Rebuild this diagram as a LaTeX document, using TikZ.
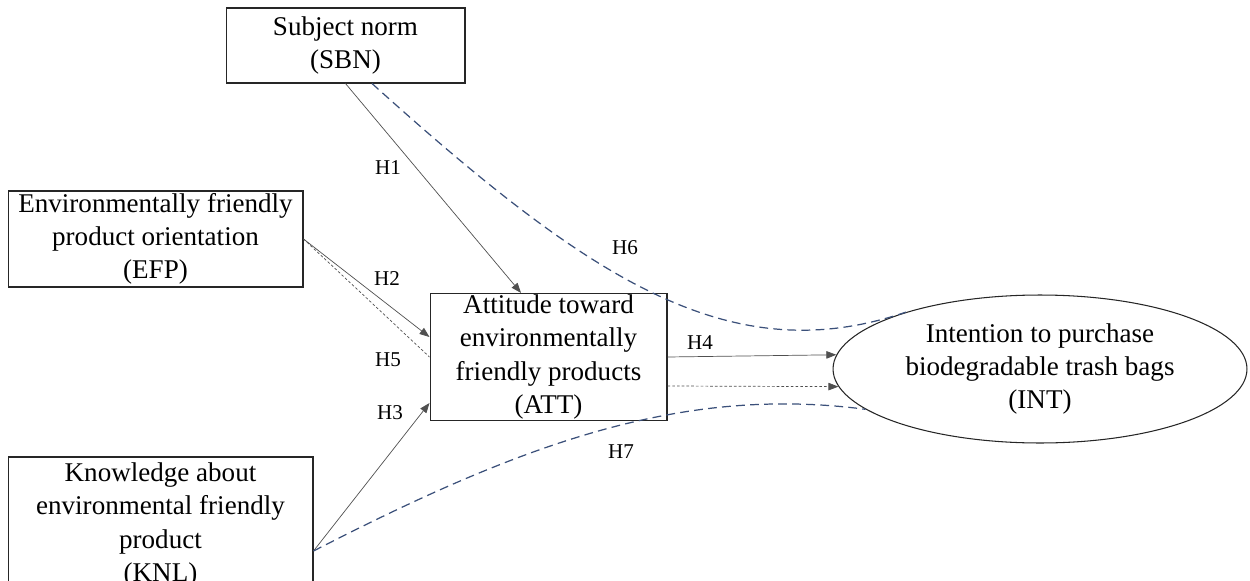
\documentclass[tikz,border=0pt]{standalone}
\usepackage{fontspec}
\setmainfont{Liberation Serif}
\usetikzlibrary{positioning,arrows.meta,shapes.geometric}
\definecolor{pathnavy}{RGB}{59,80,122}
\definecolor{linegray}{RGB}{80,80,80}

\begin{document}
\begin{tikzpicture}[x=0.02cm,y=-0.02cm,>={Triangle[length=2mm,width=1.5mm]},
  box/.style={draw=black!85,line width=0.6pt,align=center,inner sep=1pt,font=\fontsize{15.4}{18.8}\selectfont},
  lbl/.style={font=\fontsize{12}{14}\selectfont,inner sep=1pt},
  direct/.style={->,draw=linegray,line width=0.4pt},
  mediated/.style={draw=pathnavy,line width=0.7pt,dash pattern=on 5pt off 3pt},
  fine/.style={draw=linegray,line width=0.4pt,dash pattern=on 1.5pt off 1.2pt}]
\useasboundingbox (0,0) rectangle (1250,581);

\node[box,minimum width=4.78cm,minimum height=1.5cm] (sbn) at (345.5,45.5) {Subject norm\\(SBN)};
\node[box,minimum width=5.9cm,minimum height=1.92cm] (efp) at (155.5,239) {Environmentally friendly\\product orientation\\(EFP)};
\node[box,minimum width=4.74cm,minimum height=2.48cm] (att) at (548.5,357) {Attitude toward\\environmentally\\friendly products\\(ATT)};
\node[box,minimum width=6.1cm,minimum height=2.72cm] (knl) at (160.5,525) {Knowledge about\\environmental friendly\\product\\(KNL)};
\node[box,ellipse,inner sep=0pt,minimum width=8.28cm,minimum height=2.96cm] (int) at (1040,369) {Intention to purchase\\biodegradable trash bags\\(INT)};

% direct paths
\draw[direct] (sbn.south) -- ([xshift=-0.55cm]att.north);
\draw[direct] (efp.east) -- ([yshift=0.4cm]att.west);
\draw[direct] ([yshift=-0.52cm]knl.east) -- ([yshift=-0.92cm]att.west);
\draw[direct] (att.east) -- (int.176);
% mediated paths
\draw[fine] (efp.east) -- (att.west);
\draw[fine,->] ([yshift=-0.58cm]att.east) -- (int.185);
\draw[mediated] ([xshift=0.53cm]sbn.south) .. controls (590,280) and (730,372) .. (int.157);
\draw[mediated] ([yshift=-0.52cm]knl.east) .. controls (520,445) and (680,385) .. (int.193);

\node[lbl] (h1) at (388,168) {H1};
\node[lbl] (h2) at (387,279) {H2};
\node[lbl] (h5) at (388,360) {H5};
\node[lbl] (h3) at (390,413) {H3};
\node[lbl] (h4) at (700,343) {H4};
\node[lbl] (h6) at (625,248) {H6};
\node[lbl] (h7) at (621,452) {H7};
\end{tikzpicture}
\end{document}
